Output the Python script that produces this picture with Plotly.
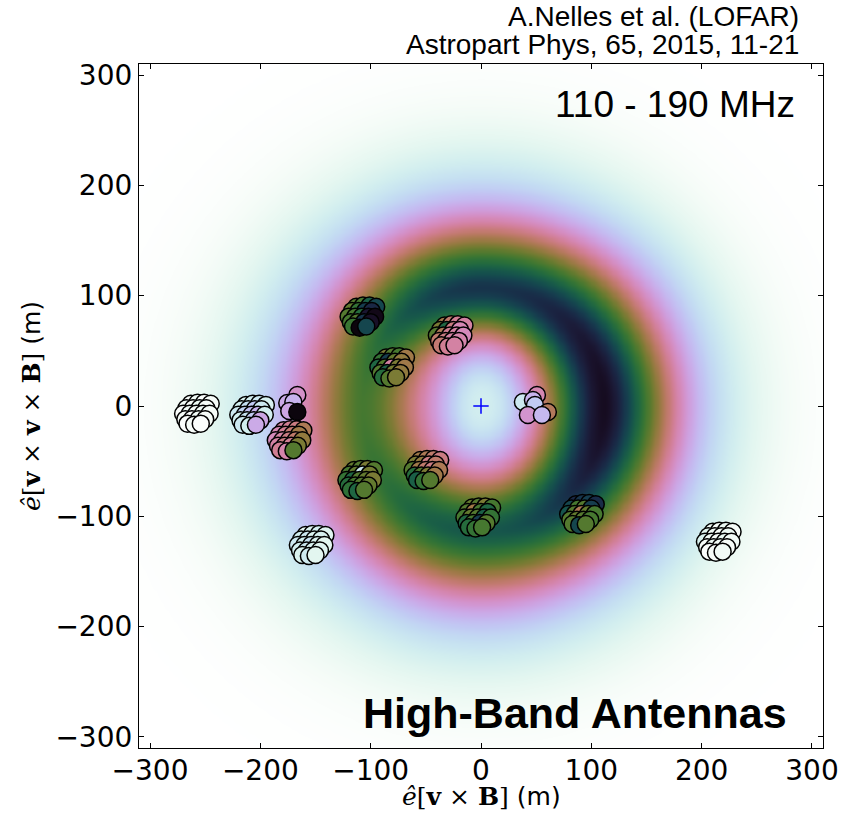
import numpy as np
import plotly.graph_objects as go

# ---------------- background LDF model (fit parameters) ----------------
# directions: +x (0 deg), +y (90 deg), -x (180 deg), -y (270 deg)
DIR_ANGLE_DEG = [0, 90, 180, 270]
RING_PEAK = [0.93, 0.82, 0.62, 0.74]
RING_RADIUS = [112, 108, 108, 114]
RING_SIGMA_IN = [62, 54, 72, 62]
RING_SIGMA_OUT = [70, 70, 77, 73]
RING_POWER_IN = 1.8
RING_POWER_OUT = 1.5
CORE_LEVEL = 0.10
CORE_RADIUS = 55
GRID_STEP = 2
AXIS_LIMIT = 310

# ---------------- antenna stations (m) and measured values (colour scale 0..1) ----------------
TILE_DX = [-5, 1, 7, 13, -9, -3, 3, 9, -12, -6, 0, 6, 12, -10, -4, 2, 8, -8, -2, 4]
TILE_DY = [9, 10, 10, 9, 5, 5, 5, 5, 0, 0, 0, 0, 0, -5, -5, -5, -5, -9, -10, -9]

STATION_NAMES = ["A", "B", "D", "E", "F", "G", "H", "I", "K", "L", "M", "N"]
STATION_X = [-258, -208, -174, -108, -28, -81, -110, -50, -3, 91, 215, -154]
STATION_Y = [-7, -8, -31, 81, 64, 35, -67, -58, -101, -98, -123, -126]
STATION_VALUES = [
    [0.02, 0.03, 0.01, 0.02, 0.03, 0.02, 0.04, 0.02, 0.01, 0.03, 0.02, 0.03, 0.02, 0.02, 0.01, 0.03, 0.02, 0.01, 0.02, 0.01],
    [0.08, 0.10, 0.12, 0.09, 0.10, 0.15, 0.20, 0.12, 0.12, 0.18, 0.22, 0.25, 0.10, 0.10, 0.14, 0.20, 0.28, 0.12, 0.10, 0.27],
    [0.38, 0.40, 0.42, 0.48, 0.36, 0.40, 0.44, 0.50, 0.35, 0.38, 0.42, 0.45, 0.52, 0.38, 0.42, 0.40, 0.55, 0.40, 0.37, 0.60],
    [0.60, 0.62, 0.72, 0.78, 0.58, 0.65, 0.80, 0.85, 0.60, 0.62, 0.68, 0.90, 0.95, 0.62, 0.60, 0.82, 0.92, 0.64, 0.97, 0.78],
    [0.50, 0.45, 0.40, 0.38, 0.55, 0.70, 0.42, 0.36, 0.60, 0.48, 0.40, 0.38, 0.35, 0.45, 0.42, 0.38, 0.37, 0.44, 0.40, 0.38],
    [0.55, 0.60, 0.62, 0.50, 0.65, 0.80, 0.58, 0.52, 0.70, 0.60, 0.38, 0.55, 0.50, 0.60, 0.72, 0.56, 0.52, 0.68, 0.60, 0.55],
    [0.58, 0.60, 0.55, 0.60, 0.62, 0.58, 0.12, 0.56, 0.65, 0.70, 0.60, 0.58, 0.55, 0.68, 0.62, 0.60, 0.58, 0.66, 0.70, 0.60],
    [0.50, 0.48, 0.45, 0.42, 0.55, 0.52, 0.42, 0.45, 0.60, 0.50, 0.45, 0.42, 0.48, 0.68, 0.60, 0.55, 0.50, 0.72, 0.65, 0.60],
    [0.58, 0.60, 0.55, 0.62, 0.60, 0.50, 0.62, 0.70, 0.62, 0.58, 0.60, 0.72, 0.65, 0.70, 0.62, 0.80, 0.60, 0.68, 0.65, 0.62],
    [0.85, 0.82, 0.80, 0.84, 0.78, 0.62, 0.60, 0.80, 0.75, 0.60, 0.48, 0.58, 0.62, 0.60, 0.58, 0.60, 0.62, 0.60, 0.78, 0.60],
    [0.03, 0.02, 0.04, 0.02, 0.06, 0.03, 0.02, 0.04, 0.08, 0.03, 0.02, 0.05, 0.03, 0.02, 0.04, 0.03, 0.02, 0.01, 0.02, 0.03],
    [0.06, 0.08, 0.10, 0.07, 0.10, 0.12, 0.08, 0.09, 0.12, 0.10, 0.14, 0.08, 0.06, 0.10, 0.12, 0.09, 0.07, 0.08, 0.11, 0.06],
]
# small stations with individual antenna positions
SMALL_X = [-166.5, -175.6, -170.1, -173.8, -166.5, 38.0, 50.7, 47.1, 48.9, 60.6, 42.5, 55.2]
SMALL_Y = [10.0, 2.7, 3.6, -4.5, -5.4, 3.6, 10.0, 5.4, 0.9, -5.4, -8.1, -8.1]
SMALL_V = [0.33, 0.27, 0.25, 0.28, 0.97, 0.12, 0.36, 0.25, 0.20, 0.47, 0.32, 0.24]

SHOWER_CORE = [0.0, 0.0]

TICKS = [-300, -200, -100, 0, 100, 200, 300]
TICK_TEXT = ["\u2212300", "\u2212200", "\u2212100", "0", "100", "200", "300"]


# ---------------- colormap: matplotlib cubehelix, reversed ----------------
def cubehelix(x, gamma=1.0, s=0.5, r=-1.5, h=1.0):
    xg = x ** gamma
    a = h * xg * (1 - xg) / 2
    phi = 2 * np.pi * (s / 3 + r * x)
    R = xg + a * (-0.14861 * np.cos(phi) + 1.78277 * np.sin(phi))
    G = xg + a * (-0.29227 * np.cos(phi) - 0.90649 * np.sin(phi))
    B = xg + a * (1.97294 * np.cos(phi))
    return np.clip([R, G, B], 0, 1)


stops = np.linspace(0, 1, 51)
colorscale = []
for t in stops:
    rgb = np.round(255 * cubehelix(1 - t)).astype(int)
    colorscale.append([float(t), "rgb(%d,%d,%d)" % tuple(rgb)])

# ---------------- background field ----------------
grid = np.arange(-AXIS_LIMIT, AXIS_LIMIT + GRID_STEP, GRID_STEP)
X, Y = np.meshgrid(grid, grid)
Rr = np.hypot(X, Y)
PHI = np.arctan2(Y, X)
ring = np.zeros_like(Rr, dtype=float)
for ang, pk, r0, si, so in zip(DIR_ANGLE_DEG, RING_PEAK, RING_RADIUS, RING_SIGMA_IN, RING_SIGMA_OUT):
    w = np.clip(np.cos(PHI - np.deg2rad(ang)), 0, None) ** 2
    d = Rr - r0
    prof = np.where(d < 0,
                    np.exp(-(np.abs(d) / si) ** RING_POWER_IN),
                    np.exp(-(np.abs(d) / so) ** RING_POWER_OUT))
    ring += w * pk * prof
Z = CORE_LEVEL * np.exp(-(Rr / CORE_RADIUS) ** 2) + ring * (1 - np.exp(-(Rr / 25.0) ** 2))
Z = np.round(np.clip(Z, 0, 1), 4)

# ---------------- antenna point lists ----------------
ant_x, ant_y, ant_v = [], [], []
for cx, cy, vals in zip(STATION_X, STATION_Y, STATION_VALUES):
    for dx, dy, v in zip(TILE_DX, TILE_DY, vals):
        ant_x.append(cx + dx)
        ant_y.append(cy + dy)
        ant_v.append(v)
ant_x += SMALL_X
ant_y += SMALL_Y
ant_v += SMALL_V

fig = go.Figure()
fig.add_trace(go.Heatmap(
    x=grid, y=grid, z=Z, colorscale=colorscale, zmin=0, zmax=1,
    zsmooth="best", showscale=False, hoverinfo="skip"))
fig.add_trace(go.Scatter(
    x=ant_x, y=ant_y, mode="markers",
    marker=dict(size=17, color=ant_v, colorscale=colorscale, cmin=0, cmax=1,
                line=dict(color="black", width=1.5), opacity=1),
    showlegend=False, hoverinfo="skip"))
fig.add_trace(go.Scatter(
    x=[SHOWER_CORE[0]], y=[SHOWER_CORE[1]], mode="markers",
    marker=dict(symbol="cross-thin", size=11, line=dict(color="blue", width=1.5), color="blue"),
    showlegend=False, hoverinfo="skip"))

axis_common = dict(
    range=[-AXIS_LIMIT, AXIS_LIMIT], tickvals=TICKS, ticktext=TICK_TEXT,
    ticks="inside", ticklen=5, tickwidth=1, tickcolor="black",
    showline=True, linecolor="black", linewidth=1.2, mirror="ticks",
    showgrid=False, zeroline=False, automargin=False,
    tickfont=dict(family="DejaVu Sans", size=28, color="black"),
)

serif = "font-family:'DejaVu Serif'"
x_title = "<span style=\"%s\"><i>ê</i>[<b>v</b> × <b>B</b>]</span> (m)" % serif
y_title = "<span style=\"%s\"><i>ê</i>[<b>v</b> × <b>v</b> × <b>B</b>]</span> (m)" % serif
title_font = dict(family="DejaVu Sans", size=25, color="black")

fig.update_layout(
    template="none",
    width=856, height=814,
    margin=dict(l=139, r=33, t=64, b=66),
    paper_bgcolor="white", plot_bgcolor="white",
    xaxis=dict(**axis_common, ticklabelstandoff=-3),
    yaxis=dict(**axis_common),
    annotations=[
        dict(text=x_title, xref="paper", yref="paper", x=0.5, y=-0.0716,
             xanchor="center", yanchor="middle", showarrow=False, font=title_font),
        dict(text=y_title, xref="paper", yref="paper", x=-0.158, y=0.5, textangle=-90,
             xanchor="center", yanchor="middle", showarrow=False, font=title_font),
        dict(text="A.Nelles et al. (LOFAR)", xref="paper", yref="paper", x=0.968, y=1.069,
             xanchor="right", yanchor="middle", showarrow=False,
             font=dict(family="Liberation Sans", size=28, color="black")),
        dict(text="Astropart Phys, 65, 2015, 11-21", xref="paper", yref="paper", x=0.968, y=1.028,
             xanchor="right", yanchor="middle", showarrow=False,
             font=dict(family="Liberation Sans", size=28, color="black")),
        dict(text="110 - 190 MHz", xref="paper", yref="paper", x=0.962, y=0.9415,
             xanchor="right", yanchor="middle", showarrow=False,
             font=dict(family="Liberation Sans", size=37, color="black")),
        dict(text="<b>High-Band Antennas</b>", xref="paper", yref="paper", x=0.950, y=0.0512,
             xanchor="right", yanchor="middle", showarrow=False,
             font=dict(family="Liberation Sans", size=43, color="black")),
    ],
)

fig.write_html("out.html", config={"displayModeBar": False},
               post_script="document.body.style.margin='0px';")
